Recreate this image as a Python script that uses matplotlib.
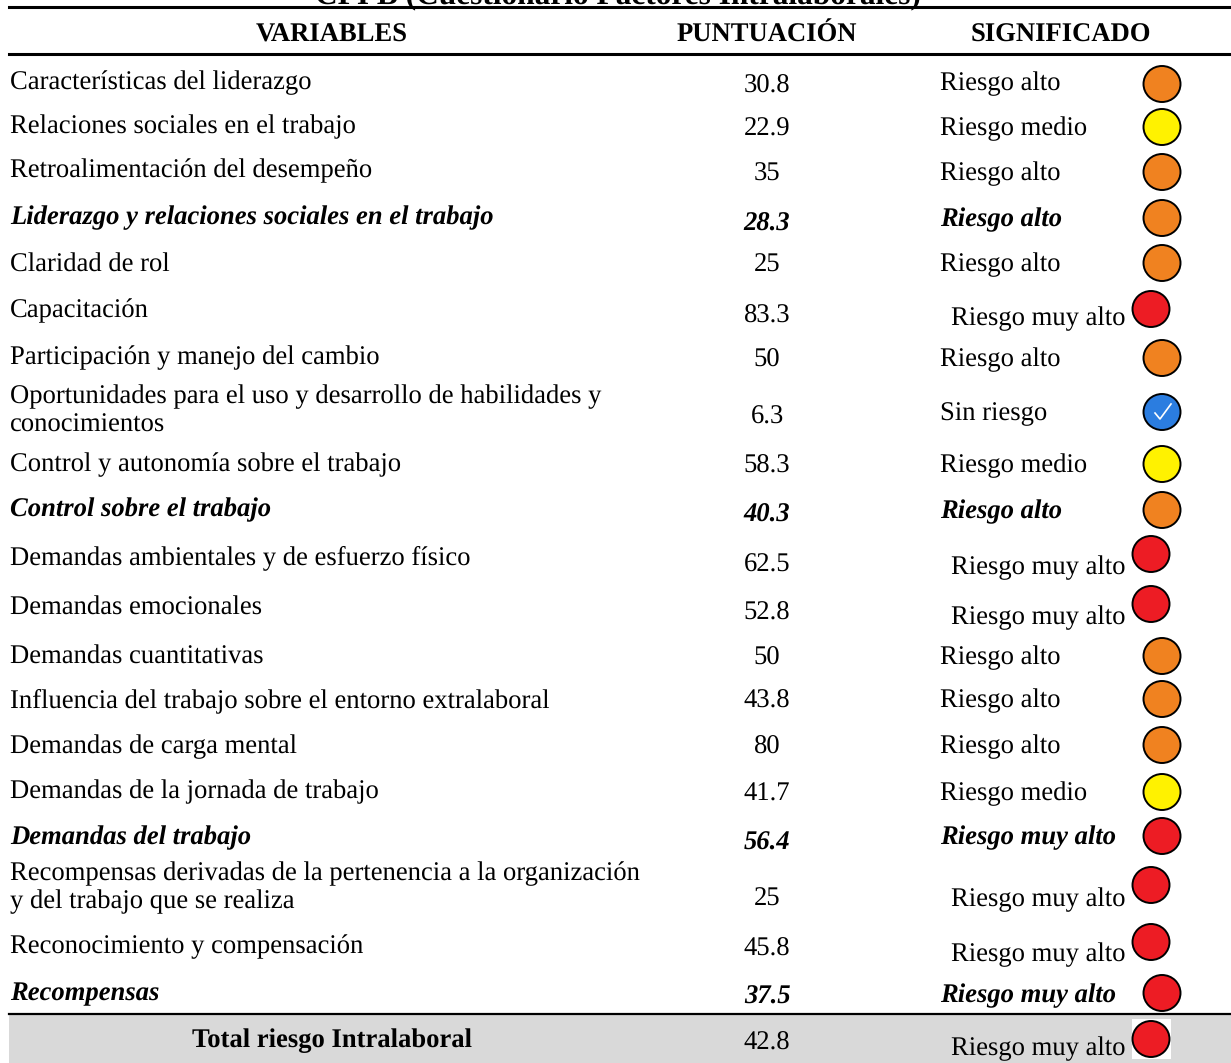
import matplotlib
matplotlib.use("Agg")
from matplotlib import pyplot as plt
from matplotlib.patches import Ellipse, Rectangle

titulo = "CFI B (Cuestionario Factores Intralaborales)"
encabezados = ["VARIABLES", "PUNTUACIÓN", "SIGNIFICADO"]
variables = [
    "Características del liderazgo",
    "Relaciones sociales en el trabajo",
    "Retroalimentación del desempeño",
    "Liderazgo y relaciones sociales en el trabajo",
    "Claridad de rol",
    "Capacitación",
    "Participación y manejo del cambio",
    "Oportunidades para el uso y desarrollo de habilidades y\nconocimientos",
    "Control y autonomía sobre el trabajo",
    "Control sobre el trabajo",
    "Demandas ambientales y de esfuerzo físico",
    "Demandas emocionales",
    "Demandas cuantitativas",
    "Influencia del trabajo sobre el entorno extralaboral",
    "Demandas de carga mental",
    "Demandas de la jornada de trabajo",
    "Demandas del trabajo",
    "Recompensas derivadas de la pertenencia a la organización\ny del trabajo que se realiza",
    "Reconocimiento y compensación",
    "Recompensas",
    "Total riesgo Intralaboral",
]
puntuacion = ["30.8", "22.9", "35", "28.3", "25", "83.3", "50", "6.3", "58.3", "40.3", "62.5",
              "52.8", "50", "43.8", "80", "41.7", "56.4", "25", "45.8", "37.5", "42.8"]
significado = ["Riesgo alto", "Riesgo medio", "Riesgo alto", "Riesgo alto", "Riesgo alto",
               "Riesgo muy alto", "Riesgo alto", "Sin riesgo", "Riesgo medio", "Riesgo alto",
               "Riesgo muy alto", "Riesgo muy alto", "Riesgo alto", "Riesgo alto", "Riesgo alto",
               "Riesgo medio", "Riesgo muy alto", "Riesgo muy alto", "Riesgo muy alto",
               "Riesgo muy alto", "Riesgo muy alto"]
filas_resumen = [3, 9, 16, 19]

# layout, in pixels of the original picture
y_var = [81, 125, 169, 216, 263, 309, 356, 409, 463, 508, 556, 606, 655, 699, 745, 790, 836, 886, 945, 992, 1040]
y_pun = [84, 127, 172, 222, 263, 314, 358, 415, 464, 513, 563, 611, 656, 699, 745, 792, 841, 897, 947, 995, 1041]
y_sig = [82, 127, 172, 218, 263, 317, 358, 412, 464, 510, 566, 616, 656, 699, 745, 792, 836, 898, 953, 994, 1047]
y_cir = [84, 127, 172, 218, 263, 309, 358, 412, 464, 510, 554, 604, 656, 699, 745, 792, 836, 885, 942, 993, 1039]
colores = {"Riesgo alto": "#F08220", "Riesgo medio": "#FFF200", "Riesgo muy alto": "#ED1C24", "Sin riesgo": "#2B7DE0"}

plt.rcParams["font.family"] = ["Liberation Serif", "DejaVu Serif"]
plt.rcParams["text.hinting"] = "none"
fig = plt.figure(figsize=(12.31, 10.63), dpi=100)
ax = fig.add_axes([0, 0, 1, 1])
ax.set_xlim(0, 1231)
ax.set_ylim(1063, 0)
ax.axis("off")

tam = 19.2
dy = 2  # va=center sits a little high
ax.add_patch(Rectangle((9, 1014), 1222, 49, color="#D9D9D9", lw=0))
ax.plot([9, 1231], [7, 7], color="black", lw=2.2, zorder=5)
ax.plot([9, 1231], [54, 54], color="black", lw=2.2)
ax.plot([9, 1231], [1014, 1014], color="black", lw=1.6)

ax.text(618, 4, titulo, ha="center", va="baseline", fontsize=22.6, fontweight="bold")
ax.text(332, 35, encabezados[0], ha="center", va="center", fontsize=tam, fontweight="bold")
ax.text(767, 35, encabezados[1], ha="center", va="center", fontsize=tam, fontweight="bold")
ax.text(1061, 35, encabezados[2], ha="center", va="center", fontsize=tam, fontweight="bold")

for i in range(len(variables)):
    resumen = i in filas_resumen
    estilo = {"fontsize": tam}
    if resumen:
        estilo = {"fontsize": tam, "fontweight": "bold", "fontstyle": "italic"}
    if i == len(variables) - 1:
        ax.text(332, y_var[i] + 1, variables[i], ha="center", va="center", fontsize=tam, fontweight="bold")
    else:
        ax.text(10, y_var[i] + dy, variables[i], ha="left", va="center", linespacing=1.17, **estilo)
    ax.text(767, y_pun[i] + dy, puntuacion[i], ha="center", va="center", **estilo)
    movido = significado[i] == "Riesgo muy alto" and not resumen
    x_sig = 951 if movido else 940
    ax.text(x_sig, y_sig[i] + dy, significado[i], ha="left", va="center", **estilo)
    x_cir = 1151 if movido else 1162
    if i == len(variables) - 1:
        ax.add_patch(Rectangle((1132, 1019), 39, 40, color="white", lw=0))
    ax.add_patch(Ellipse((x_cir, y_cir[i]), 37, 36, facecolor=colores[significado[i]], edgecolor="black", lw=1.4))
    if significado[i] == "Sin riesgo":
        ax.plot([x_cir - 7, x_cir - 2, x_cir + 9], [y_cir[i] + 1, y_cir[i] + 7, y_cir[i] - 8], color="white", lw=1.2)

fig.savefig("out.png", dpi=100)
